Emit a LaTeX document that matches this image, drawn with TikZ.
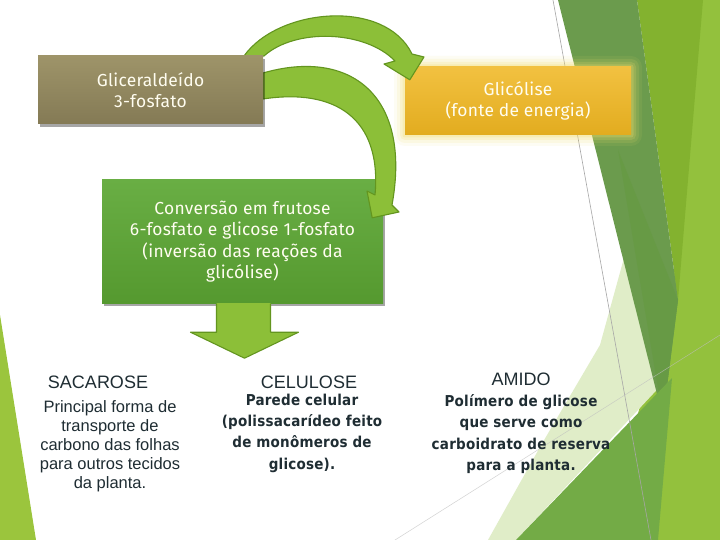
\documentclass[tikz,border=0pt]{standalone}
\usepackage{fontspec}
\newfontfamily\boxfont[LetterSpace=1.5]{Fira Sans}
\newfontfamily\arialf{Liberation Sans}
\newfontfamily\boldf[FakeStretch=0.9,LetterSpace=1.5]{DejaVu Sans Bold}
\usetikzlibrary{shadows,calc}
\definecolor{olivetop}{HTML}{9E9469}
\definecolor{olivebot}{HTML}{847A55}
\definecolor{goldtop}{HTML}{F2C141}
\definecolor{goldbot}{HTML}{E2AC1F}
\definecolor{glowc}{HTML}{F2DC6A}
\definecolor{greentop}{HTML}{69AE44}
\definecolor{greenbot}{HTML}{55992F}
\definecolor{arrowc}{HTML}{8CBF38}
\definecolor{arrowd}{HTML}{63951F}
\definecolor{txtdark}{HTML}{1F2D33}
\definecolor{boxtxt}{HTML}{FFFDF0}
\definecolor{fdark}{HTML}{6B9B4D}
\definecolor{fdarker}{HTML}{679A45}
\definecolor{fyellow}{HTML}{83B22F}
\definecolor{flight}{HTML}{93C13D}
\definecolor{fmed}{HTML}{73AB46}
\definecolor{fpale}{HTML}{E0EDC8}
\definecolor{fleft}{HTML}{9BC53D}
\begin{document}
\begin{tikzpicture}[x=1pt,y=-1pt,
  box/.style={rectangle, align=center, text=boxtxt, inner sep=0pt,
    font=\boxfont\fontsize{17.4}{21.5}\selectfont},
  shad/.style={drop shadow={shadow xshift=2pt, shadow yshift=-3pt, opacity=0.35, fill=black}},
  bigarrow/.style={fill=arrowc, draw=arrowd, line width=1.1pt, line join=round},
  ttl/.style={text=txtdark, font=\arialf\fontsize{18}{20}\selectfont, inner sep=0pt},
  descn/.style={text=txtdark, align=center, inner sep=0pt, font=\arialf\fontsize{16.5}{19}\selectfont},
  descb/.style={text=txtdark, align=center, inner sep=0pt, font=\boldf\fontsize{15}{21.3}\selectfont}]
\useasboundingbox (0,0) rectangle (720,540);
\fill[white] (0,0) rectangle (720,540);
% background facets
\fill[flight] (697,0) -- (720,0) -- (720,540) -- (600,540) -- (672,300) -- cycle;
\fill[fyellow] (637,0) -- (703,0) -- (678,300) -- cycle;
\fill[fpale] (624,258) -- (600,345) -- (540,447) -- (488,540) -- (516,540) -- (668,378) -- cycle;
\fill[fdark] (558,0) -- (637,0) -- (678,300) -- (663,418) -- cycle;
\fill[fdarker] (618,150) -- (678,300) -- (663,418) -- cycle;
\fill[fmed] (516,540) -- (672,378) -- (658,540) -- cycle;
\fill[fleft] (0,315) -- (36,540) -- (0,540) -- cycle;
\draw[gray!70, line width=0.6pt] (553,0) -- (651,540);
\draw[gray!50, line width=0.5pt, opacity=0.7] (395,540) -- (720,335);
% glow of Glicolise box
\foreach \e/\o in {11/0.08, 8/0.12, 5/0.18, 2.5/0.25} {
  \fill[glowc, opacity=\o, rounded corners=\e pt] (405-\e,67-\e) rectangle (631+\e,135+\e);
}
\node[box, minimum width=226pt, minimum height=68pt, top color=goldtop, bottom color=goldbot] (y) at (518,101) {Glicólise\\(fonte de energia)};
\node[box, shad, minimum width=281pt, minimum height=123pt, top color=greentop, bottom color=greenbot] (c) at (242.5,241.5) {Conversão em frutose\\6-fosfato e glicose 1-fosfato\\(inversão das reações da\\glicólise)};
% down arrow
\fill[arrowc] ($(c.south)+(-26,0)$) -- ($(c.south)+(28,0)$) -- ($(c.south)+(28,29)$) -- ($(c.south)+(56,29)$) -- ($(c.south)+(2,55)$) -- ($(c.south)+(-52,29)$) -- ($(c.south)+(-26,29)$) -- cycle;
\draw[arrowd, line width=1.1pt, line join=round] ($(c.south)+(28,0.5)$) -- ($(c.south)+(28,29)$) -- ($(c.south)+(56,29)$) -- ($(c.south)+(2,55)$) -- ($(c.south)+(-52,29)$) -- ($(c.south)+(-26,29)$) -- ($(c.south)+(-26,0.5)$);
% curved arrows
\coordinate (a1s) at (244,56);
\draw[bigarrow] (a1s) .. controls (278,8) and (385,-2) .. (412,54) -- (424,57) -- ($(y.north west)+(5,13)$) -- (384,64) -- (395,61) .. controls (365,30) and (295,28) .. (264,56) -- cycle;
\draw[bigarrow] (263,73) .. controls (350,48) and (412,95) .. (392,205) -- (399,212) -- ($(c.north east)+(-11,38)$) -- (367,191) -- (375,195) .. controls (382,118) and (335,88) .. (263,99) -- cycle;
\node[box, shad, minimum width=225pt, minimum height=68pt, top color=olivetop, bottom color=olivebot] (g) at (150.5,90) {Gliceraldeído\\3-fosfato};
% bottom texts
\node[ttl] (sac) at (98,382) {SACAROSE};
\node[descn] (sacd) at (110,446) {Principal forma de\\transporte de\\carbono das folhas\\para outros tecidos\\da planta.};
\node[ttl] (cel) at (309,382) {CELULOSE};
\node[descb] (celd) at (302,433) {Parede celular\\(polissacarídeo feito\\de monômeros de\\glicose).};
\node[ttl] (ami) at (521,379) {AMIDO};
\node[descb] (amid) at (521,434) {Polímero de glicose\\que serve como\\carboidrato de reserva\\para a planta.};
\end{tikzpicture}
\end{document}
